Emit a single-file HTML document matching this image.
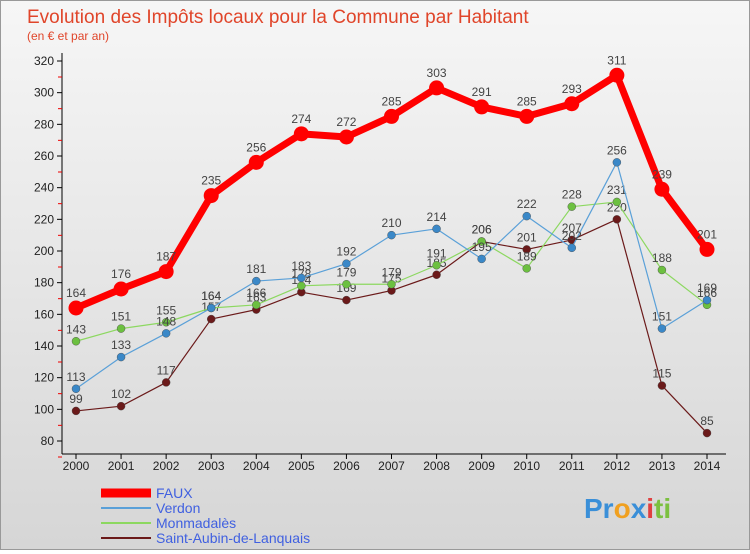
<!DOCTYPE html>
<html><head><meta charset="utf-8">
<style>
body{margin:0;width:750px;height:550px;overflow:hidden;font-family:"Liberation Sans","DejaVu Sans",sans-serif;}
#wrap{position:relative;width:748px;height:548px;border:1px solid #999;background:linear-gradient(#f6f6f6,#d6d6d6);}
</style></head><body>
<div id="wrap">
<svg id="chart" width="748" height="548" xmlns="http://www.w3.org/2000/svg">
<text x="26" y="22" font-size="19" fill="#e0452a">Evolution des Impôts locaux pour la Commune par Habitant</text>
<text x="26" y="39" font-size="12" fill="#e0452a">(en € et par an)</text>
<g id="axes"></g>
<g id="series"></g>
<g id="legend"></g>
<text x="583" y="517" font-size="28" font-weight="bold"><tspan fill="#3a8fd8">Pr</tspan><tspan fill="#f0a020">o</tspan><tspan fill="#3a8fd8">x</tspan><tspan fill="#e04040">i</tspan><tspan fill="#7cc040">ti</tspan></text>
</svg>
</div>
<script>
const years=[2000,2001,2002,2003,2004,2005,2006,2007,2008,2009,2010,2011,2012,2013,2014];
const faux=[164,176,187,235,256,274,272,285,303,291,285,293,311,239,201];
const verdon=[113,133,148,164,181,183,192,210,214,195,222,202,256,151,169];
const monmadales=[143,151,155,164,166,178,179,179,191,206,189,228,231,188,166];
const saintAubin=[99,102,117,157,163,174,169,175,185,206,201,207,220,115,85];
const yTicks=[80,100,120,140,160,180,200,220,240,260,280,300,320];
const NS="http://www.w3.org/2000/svg";
function x(i){return 75+(706-75)*(i/(years.length-1));}
function y(v){return 440-(v-80)*(380/240);}
function mk(tag,attrs,parent){const e=document.createElementNS(NS,tag);for(const k in attrs)e.setAttribute(k,attrs[k]);parent.appendChild(e);return e;}
const axes=document.getElementById('axes');
let e=mk('line',{x1:61,y1:52,x2:61,y2:453,stroke:'#000','stroke-width':1},axes);


e=mk('line',{x1:61,y1:453,x2:725,y2:453,stroke:'#000','stroke-width':1},axes);


yTicks.forEach(t=>{
  const yy=y(t);
  mk('line',{x1:56,y1:yy,x2:61,y2:yy,stroke:'#000'},axes);
  mk('line',{x1:57,y1:yy+16,x2:61,y2:yy+16,stroke:'#e00'},axes);
  const tx=mk('text',{x:53,y:yy+4,'font-size':12,'text-anchor':'end',fill:'#222'},axes);
  tx.textContent=t;
  
  
});
years.forEach((yr,i)=>{
  const xx=x(i);
  mk('line',{x1:xx,y1:453,x2:xx,y2:458,stroke:'#000'},axes);
  const tx=mk('text',{x:xx,y:465+4,'font-size':12,'text-anchor':'middle',fill:'#222'},axes);
  tx.textContent=yr;
  
  
});
const series=[
 {name:'Saint-Aubin-de-Lanquais',data:saintAubin,color:'#6b1a1a',w:1.2,r:4},
 {name:'Monmadalès',data:monmadales,color:'#8cd860',w:1.2,r:4,fill:'#6cc040'},
 {name:'Verdon',data:verdon,color:'#5aa0d8',w:1.2,r:4,fill:'#3a88c8'},
 {name:'FAUX',data:faux,color:'#ff0000',w:7,r:7.5}
];
const sg=document.getElementById('series');
series.forEach(s=>{
  const g=mk('g',{},sg);
  
  
  const pts=s.data.map((v,i)=>x(i)+','+y(v)).join(' ');
  const pl=mk('polyline',{points:pts,fill:'none',stroke:s.color,'stroke-width':s.w,'stroke-linejoin':'round'},g);
  
  
  s.data.forEach((v,i)=>{
    const c=mk('circle',{cx:x(i),cy:y(v),r:s.r,fill:s.fill||s.color,stroke:s.r>5?'none':'#444','stroke-width':0.4},g);
    
    
    const t=mk('text',{x:x(i),y:y(v)-(s.r>5?11:8),'font-size':12,'text-anchor':'middle',fill:'#444'},g);
    t.textContent=v;
    
    
  });
});
const lg=document.getElementById('legend');
const legendItems=[series[3],series[2],series[1],series[0]];
legendItems.forEach((s,i)=>{
  const yy=492+i*15;
  const g=mk('g',{},lg);
  
  
  mk('line',{x1:100,y1:yy,x2:150,y2:yy,stroke:s.color,'stroke-width':s.w>5?9:2},g);
  const t=mk('text',{x:155,y:yy+5,'font-size':14,fill:'#4060e0'},g);
  t.textContent=s.name;
  
  
});
</script>
</body></html>
